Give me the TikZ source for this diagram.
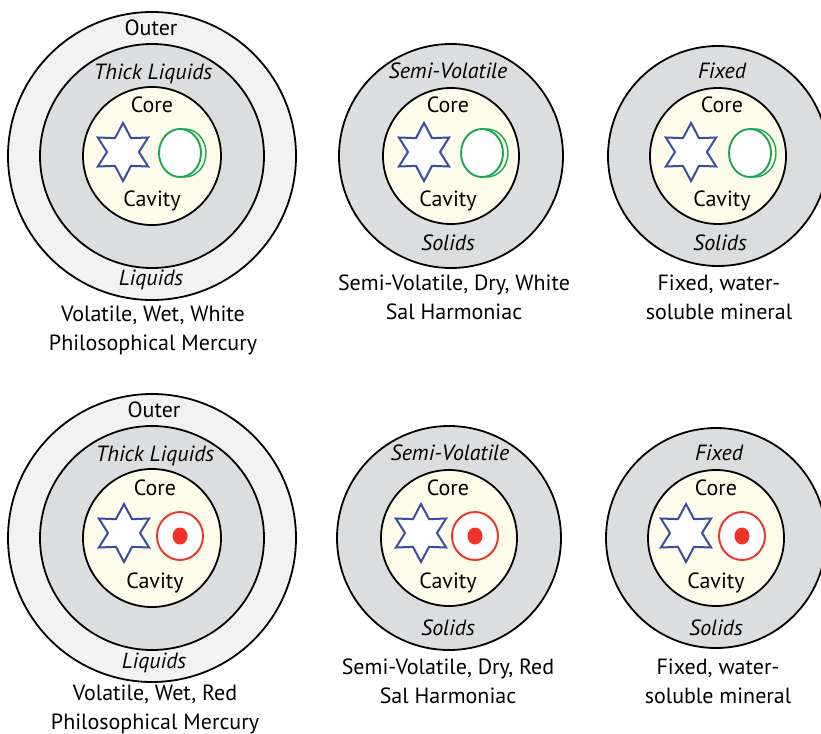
\documentclass[tikz,border=0pt]{standalone}
\usepackage{fontspec}
\setmainfont{PT Sans}
\usetikzlibrary{positioning}
\definecolor{ringout}{HTML}{F2F2F2}
\definecolor{ringmid}{HTML}{DCDDDF}
\definecolor{corefill}{HTML}{FDFCEB}
\definecolor{starblue}{HTML}{3A4DA0}
\definecolor{coingreen}{HTML}{1DA653}
\definecolor{sealred}{HTML}{EE3427}
\tikzset{
  hexstar/.pic={
    \draw[draw=starblue,fill=white,line width=2pt,line join=miter]
      (90:29) -- (120:16) -- (150:29) -- (180:16) -- (210:29) -- (240:16)
      -- (270:29) -- (300:16) -- (330:29) -- (0:16) -- (30:29) -- (60:16) -- cycle;
  },
  coin/.pic={
    \draw[coingreen,line width=1.4pt] (5,0) ellipse [x radius=21,y radius=24];
    \draw[coingreen,line width=1.9pt,fill=white] (0,0) ellipse [x radius=21,y radius=24];
  },
  seal/.pic={
    \draw[sealred,line width=1.9pt,fill=white] (0,0) ellipse [x radius=23,y radius=24];
    \fill[sealred] (0,0) ellipse [x radius=7.5,y radius=8.5];
  }
}
\begin{document}
\begin{tikzpicture}[x=1pt,y=-1pt,
  ring/.style={draw=black,line width=1.8pt},
  lab/.style={font=\fontsize{22}{29}\selectfont,inner sep=0pt,text height=0.72em,text depth=0.22em},
  layer/.style={font=\itshape\fontsize{22}{29}\selectfont,inner sep=0pt,text height=0.72em,text depth=0.22em},
  caption/.style={font=\fontsize{22}{29}\selectfont,inner sep=0pt,align=center}]
  \useasboundingbox (0,0) rectangle (821,733);

  % top row: white
  \draw[ring,fill=ringout] (152,156) circle (144);
  \draw[ring,fill=ringmid] (152,156) circle (112);
  \draw[ring,fill=corefill] (152,156) circle (69);
  \node[lab] (tlOuter) at (151,33) {Outer};
  \node[layer] (tlThick) at (153,77) {Thick Liquids};
  \node[lab] (tlCore) at (152,110) {Core};
  \node[lab] (tlCavity) at (152,204) {Cavity};
  \node[layer] (tlLiq) at (151,283) {Liquids};
  \pic (tlStar) at (123,152) {hexstar};
  \pic (tlCoin) at (180,153) {coin};
  \node[caption] (tlCap) at (153,330) {Volatile, Wet, White\\Philosophical Mercury};

  \draw[ring,fill=ringmid] (451,156) circle (112);
  \draw[ring,fill=corefill] (451,156) circle (68);
  \node[layer] (tmSemi) at (448,76) {Semi-Volatile};
  \node[lab] (tmCore) at (448,110) {Core};
  \node[lab] (tmCavity) at (448,204) {Cavity};
  \node[layer] (tmSolids) at (448,248) {Solids};
  \pic (tmStar) at (424,152) {hexstar};
  \pic (tmCoin) at (482,153) {coin};
  \node[caption] (tmCap) at (454,297) {Semi-Volatile, Dry, White\\Sal Harmoniac};

  \draw[ring,fill=ringmid] (718,156) circle (110);
  \draw[ring,fill=corefill] (718,156) circle (68);
  \node[layer] (trFixed) at (722,76) {Fixed};
  \node[lab] (trCore) at (722,110) {Core};
  \node[lab] (trCavity) at (722,204) {Cavity};
  \node[layer] (trSolids) at (720,248) {Solids};
  \pic (trStar) at (691,152) {hexstar};
  \pic (trCoin) at (750,153) {coin};
  \node[caption] (trCap) at (719,297) {Fixed, water-\\soluble mineral};

  % bottom row: red
  \draw[ring,fill=ringout] (152,538) circle (144);
  \draw[ring,fill=ringmid] (152,538) circle (112);
  \draw[ring,fill=corefill] (152,538) circle (69);
  \node[lab] (blOuter) at (154,415) {Outer};
  \node[layer] (blThick) at (155,459) {Thick Liquids};
  \node[lab] (blCore) at (155,493) {Core};
  \node[lab] (blCavity) at (155,586) {Cavity};
  \node[layer] (blLiq) at (154,666) {Liquids};
  \pic (blStar) at (124,533) {hexstar};
  \pic (blSeal) at (180,536) {seal};
  \node[caption] (blCap) at (155,709) {Volatile, Wet, Red\\Philosophical Mercury};

  \draw[ring,fill=ringmid] (449,538) circle (112);
  \draw[ring,fill=corefill] (449,538) circle (68);
  \node[layer] (bmSemi) at (450,458) {Semi-Volatile};
  \node[lab] (bmCore) at (448,493) {Core};
  \node[lab] (bmCavity) at (448,586) {Cavity};
  \node[layer] (bmSolids) at (448,633) {Solids};
  \pic (bmStar) at (421,533) {hexstar};
  \pic (bmSeal) at (475,536) {seal};
  \node[caption] (bmCap) at (448,681) {Semi-Volatile, Dry, Red\\Sal Harmoniac};

  \draw[ring,fill=ringmid] (716,538) circle (110);
  \draw[ring,fill=corefill] (716,538) circle (68);
  \node[layer] (brFixed) at (719,458) {Fixed};
  \node[lab] (brCore) at (716,493) {Core};
  \node[lab] (brCavity) at (716,586) {Cavity};
  \node[layer] (brSolids) at (716,633) {Solids};
  \pic (brStar) at (686,533) {hexstar};
  \pic (brSeal) at (742,536) {seal};
  \node[caption] (brCap) at (718,681) {Fixed, water-\\soluble mineral};
\end{tikzpicture}
\end{document}
